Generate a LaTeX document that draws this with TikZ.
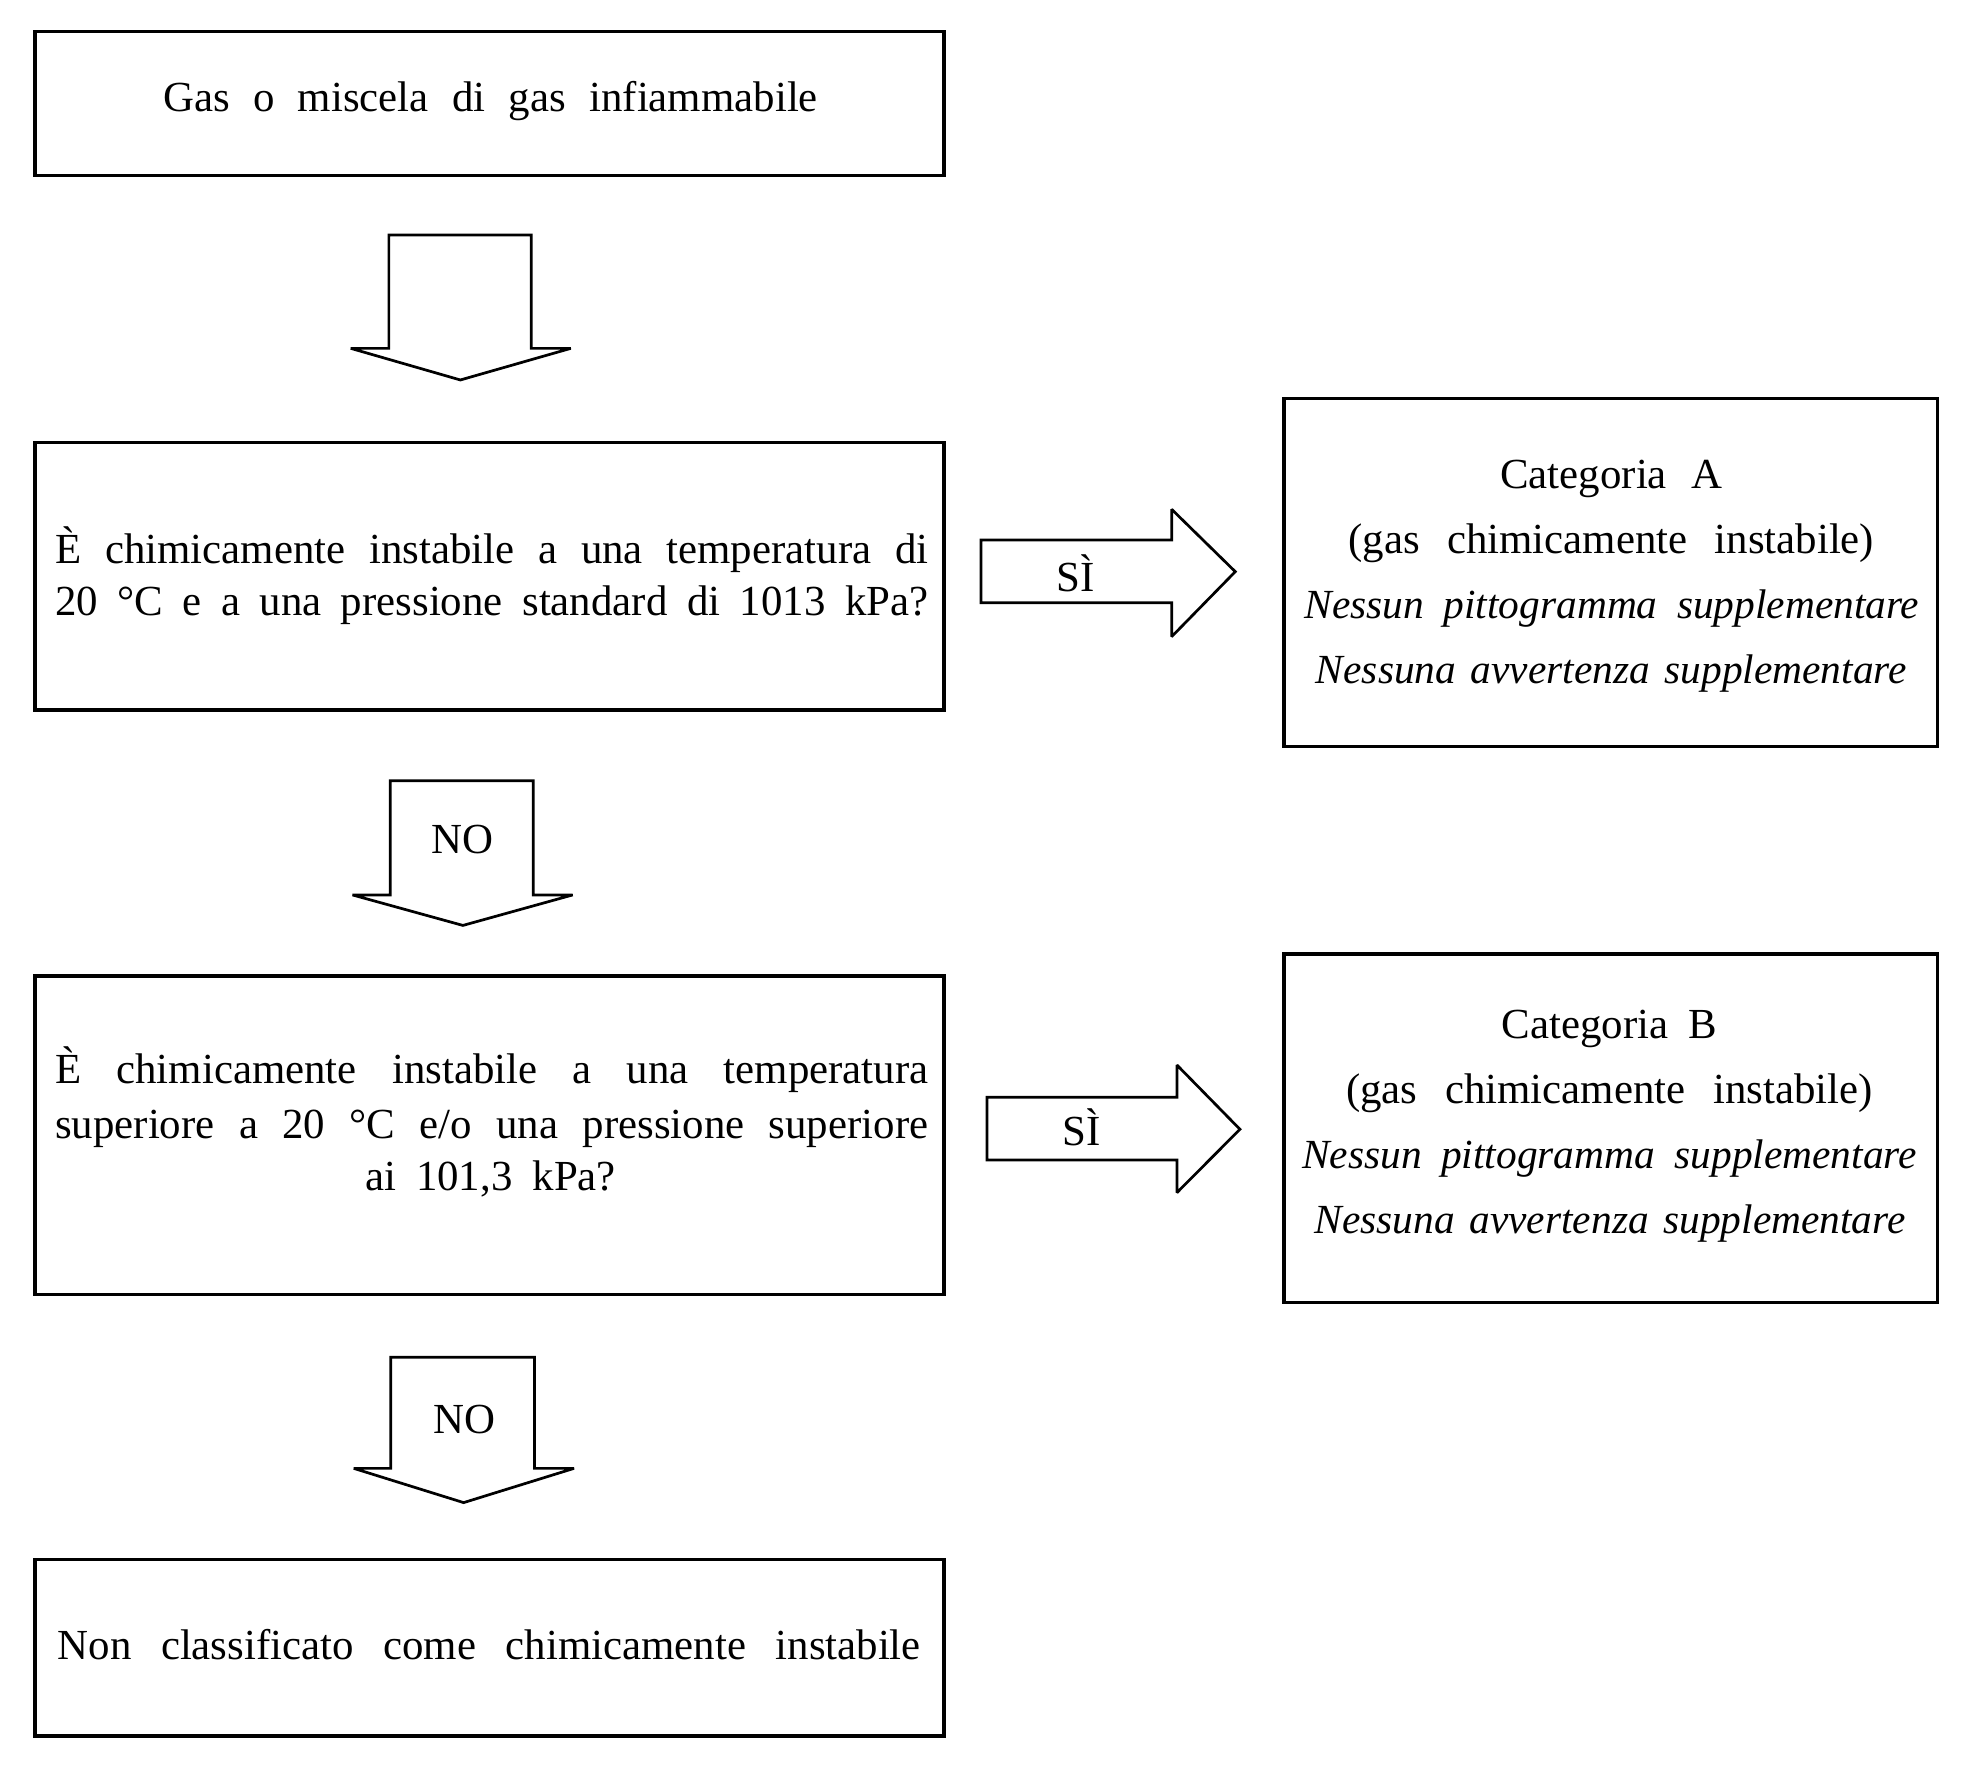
\documentclass[tikz,border=0pt]{standalone}
\usepackage{fontspec}
\setmainfont{Liberation Serif}
\begin{document}
\begin{tikzpicture}[x=0.6pt,y=-0.6pt,
  box/.style={draw, line width=1.5pt, inner sep=0pt, fill=none},
  txt/.style={anchor=base, inner sep=0pt, font=\fontsize{20.5}{24}\selectfont},
  itxt/.style={anchor=base, inner sep=0pt, font=\fontsize{19.8}{24}\selectfont\itshape},
  blockarrow/.style={draw, line width=1.3pt, line join=miter, miter limit=2}]
\useasboundingbox (0,0) rectangle (1568,1421);
% boxes
\node[box, minimum width=434.7pt, minimum height=69pt]    (b1) at (390.2,82.7) {};
\node[box, minimum width=434.7pt, minimum height=128.1pt] (b2) at (390.2,459.25) {};
\node[box, minimum width=434.7pt, minimum height=152.4pt] (b3) at (390.2,905) {};
\node[box, minimum width=434.7pt, minimum height=84.5pt]  (b4) at (390.2,1313.4) {};
\node[box, minimum width=312.6pt, minimum height=166.2pt] (ba) at (1284,456.5) {};
\node[box, minimum width=312.6pt, minimum height=166.5pt] (bb) at (1284,899.2) {};
% texts
\node[txt] (t1) at (391,89) {\makebox[313.2pt][s]{Gas o miscela di gas infiammabile}};
\node[txt] (t2a) at (392,449) {\makebox[417.6pt][s]{È chimicamente instabile a una temperatura di}};
\node[txt] (t2b) at (392,491) {\makebox[417.6pt][s]{20 °C e a una pressione standard di 1013 kPa?}};
\node[txt] (t3a) at (392,864) {\makebox[417.6pt][s]{È chimicamente instabile a una temperatura}};
\node[txt] (t3b) at (392,907.4) {\makebox[417.6pt][s]{superiore a 20 °C e/o una pressione superiore}};
\node[txt] (t3c) at (391,948.6) {\makebox[120pt][s]{ai 101,3 kPa?}};
\node[txt] (t4) at (390,1323) {\makebox[412.8pt][s]{Non classificato come chimicamente instabile}};
\node[txt] (ta1) at (1284.5,389.3) {\makebox[106.2pt][s]{Categoria A}};
\node[txt] (ta2) at (1284.5,441) {\makebox[251.4pt][s]{(gas chimicamente instabile)}};
\node[itxt] (ta3) at (1285,492.9) {\makebox[294pt][s]{Nessun pittogramma supplementare}};
\node[itxt] (ta4) at (1284.5,544.7) {\makebox[282.6pt][s]{Nessuna avvertenza supplementare}};
\node[txt] (tb1) at (1283,827.7) {\makebox[103.2pt][s]{Categoria B}};
\node[txt] (tb2) at (1283,879.5) {\makebox[252pt][s]{(gas chimicamente instabile)}};
\node[itxt] (tb3) at (1283,931.3) {\makebox[294pt][s]{Nessun pittogramma supplementare}};
\node[itxt] (tb4) at (1283.5,983.1) {\makebox[282.6pt][s]{Nessuna avvertenza supplementare}};
% block arrows down
\draw[blockarrow] (310,187.3) -- (310,277.7) -- (279.6,277.7) -- (367,302.9) -- (455,277.7) -- (423.5,277.7) -- (423.5,187.3) -- cycle;
\draw[blockarrow] (311,622.3) -- (311,713.4) -- (281,713.4) -- (369,737.7) -- (456.5,713.4) -- (425,713.4) -- (425,622.3) -- cycle;
\draw[blockarrow] (311.5,1082) -- (311.5,1170.5) -- (282,1170.5) -- (369.6,1197.8) -- (457.6,1170.5) -- (426,1170.5) -- (426,1082) -- cycle;
% block arrows right
\draw[blockarrow] (782,430.5) -- (934,430.5) -- (934,406) -- (984.7,455.7) -- (934,507.5) -- (934,480.4) -- (782,480.4) -- cycle;
\draw[blockarrow] (786.8,874.7) -- (938.2,874.7) -- (938.2,849) -- (988.4,900.2) -- (938.2,950.7) -- (938.2,924.7) -- (786.8,924.7) -- cycle;
% arrow labels
\node[txt] (no1) at (368.5,680) {NO};
\node[txt] (no2) at (370,1142.5) {NO};
\node[txt] (si1) at (857.5,471.6) {SÌ};
\node[txt] (si2) at (862,913.5) {SÌ};
\end{tikzpicture}
\end{document}
